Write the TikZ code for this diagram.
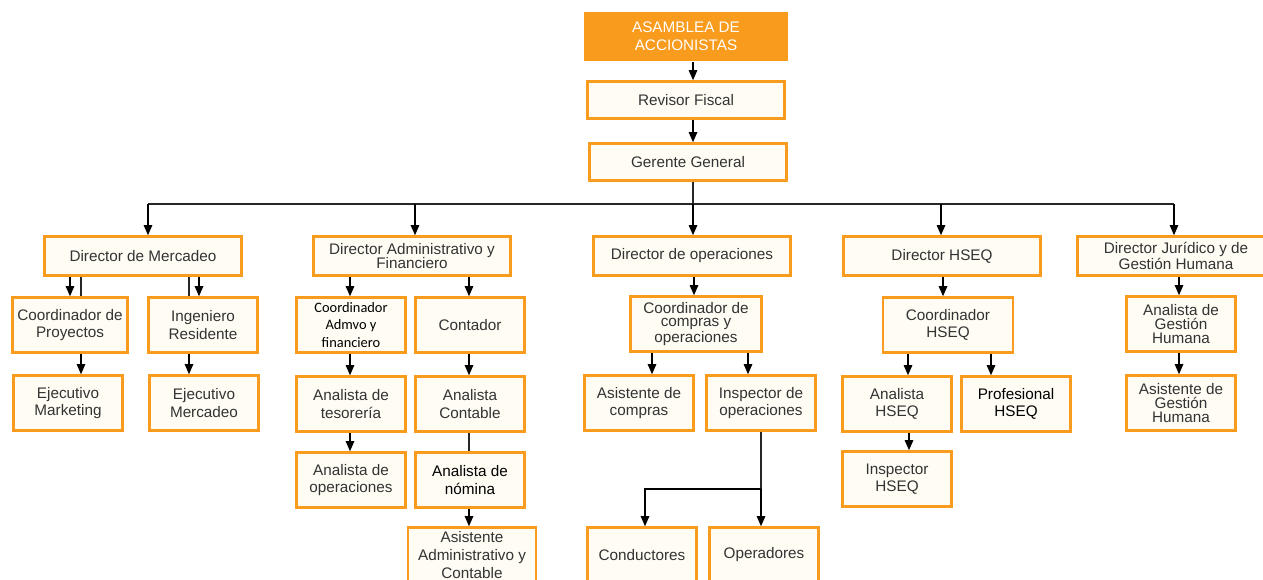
\documentclass[tikz,border=0pt]{standalone}
\usepackage{fontspec}
\setmainfont{Liberation Sans}
\newfontfamily\calfont{Carlito}
\usetikzlibrary{arrows.meta}

\definecolor{naranja}{HTML}{F99B1C}
\definecolor{crema}{HTML}{FFFCF4}
\definecolor{texto}{HTML}{333333}

\begin{document}
\begin{tikzpicture}[x=0.02cm, y=-0.02cm,
    caja/.style={draw=naranja, line width=1.5pt, fill=crema, text=texto,
      align=center, inner sep=1pt, font=\fontsize{8.7}{10}\selectfont},
    cabeza/.style={caja, draw=none, fill=naranja, text=white,
      minimum width=4.08cm, minimum height=0.98cm},
    director/.style={caja, minimum width=3.94cm, minimum height=0.78cm},
    puesto/.style={caja, minimum width=2.18cm, minimum height=1.1cm},
    apretado/.style={font=\fontsize{8.7}{7.8}\selectfont},
    oscuro/.style={text=black},
    flecha/.style={-{Triangle[length=2mm, width=1.7mm]}, line width=0.6pt},
    linea/.style={line width=0.6pt, draw=black!85}]

    \useasboundingbox (0,0) rectangle (1263,579);

    % cabeza
    \node[cabeza] (asam) at (686,36) {ASAMBLEA DE\\ACCIONISTAS};
    \node[director, minimum height=0.74cm] (rev) at (686,100) {Revisor Fiscal};
    \node[director, minimum height=0.74cm] (ger) at (688,162) {Gerente General};

    % directores
    \node[director] (dmer) at (143,256) {Director de Mercadeo};
    \node[director, font=\fontsize{8.7}{8.4}\selectfont] (dadm) at (412,256)
      {Director Administrativo y\\Financiero};
    \node[director] (dope) at (692,256) {Director de operaciones};
    \node[director] (dhse) at (942,256) {Director HSEQ};
    \node[director, apretado] (djur) at (1176,256)
      {Director Jurídico y de\\Gestión Humana};

    % mercadeo
    \node[puesto, minimum width=2.3cm] (cpro) at (70,325) {Coordinador de\\Proyectos};
    \node[puesto] (ing) at (203,325) {Ingeniero\\Residente};
    \node[puesto] (ejm) at (68,403) {Ejecutivo\\Marketing};
    \node[puesto] (ejme) at (204,403) {Ejecutivo\\Mercadeo};

    % administrativo y financiero
    \node[puesto, oscuro, font=\calfont\fontsize{8.2}{10}\selectfont] (cadm) at (351,325)
      {Coordinador\\Admvo y\\financiero};
    \node[puesto] (cont) at (470,325) {Contador};
    \node[puesto] (ates) at (351,404) {Analista de\\tesorería};
    \node[puesto] (acon) at (470,404) {Analista\\Contable};
    \node[puesto] (aope) at (351,480) {Analista de\\operaciones};
    \node[puesto, oscuro] (anom) at (470,480) {Analista de\\nómina};
    \node[puesto, minimum width=2.56cm] (asad) at (472,555)
      {Asistente\\Administrativo y\\Contable};

    % operaciones
    \node[puesto, apretado, minimum width=2.62cm] (ccom) at (696,324)
      {Coordinador de\\compras y\\operaciones};
    \node[puesto] (asco) at (639,403) {Asistente de\\compras};
    \node[puesto] (iope) at (761,403) {Inspector de\\operaciones};
    \node[puesto] (cond) at (642,555) {Conductores};
    \node[puesto] (oper) at (764,555) {Operadores};

    % hseq
    \node[puesto, minimum width=2.6cm] (choo) at (948,325) {Coordinador\\HSEQ};
    \node[puesto] (ahse) at (897,404) {Analista\\HSEQ};
    \node[puesto, oscuro] (phse) at (1016,404) {Profesional\\HSEQ};
    \node[puesto] (ihse) at (897,479) {Inspector\\HSEQ};

    % juridico y gestion humana
    \node[puesto, apretado] (agh) at (1181,324) {Analista de\\Gestión\\Humana};
    \node[puesto, apretado] (asgh) at (1181,403) {Asistente de\\Gestión\\Humana};

    % conectores
    \coordinate (bus) at (693,204);
    \coordinate (ramal) at (761,489);

    \draw[flecha] (asam.south -| 693,0) -- (rev.north -| 693,0);
    \draw[flecha] (rev.south -| 693,0) -- (ger.north -| 693,0);
    \draw[linea] (ger.south -| bus) -- (bus);
    \draw[linea] (bus -| 148,0) -- (bus -| 1174,0);

    \draw[flecha] (bus -| 148,0) -- (dmer.north -| 148,0);
    \draw[flecha] (bus -| 415,0) -- (dadm.north -| 415,0);
    \draw[flecha] (bus) -- (dope.north -| bus);
    \draw[flecha] (bus -| 941,0) -- (dhse.north -| 941,0);
    \draw[flecha] (bus -| 1174,0) -- (djur.north -| 1174,0);

    \draw[flecha] (dmer.south -| 70,0) -- (cpro.north -| 70,0);
    \draw[linea] (dmer.south -| 81,0) -- (cpro.north -| 81,0);
    \draw[linea] (dmer.south -| 189,0) -- (ing.north -| 189,0);
    \draw[flecha] (dmer.south -| 199,0) -- (ing.north -| 199,0);
    \draw[flecha] (cpro.south -| 81,0) -- (ejm.north -| 81,0);
    \draw[flecha] (ing.south -| 189,0) -- (ejme.north -| 189,0);

    \draw[flecha] (dadm.south -| 350,0) -- (cadm.north -| 350,0);
    \draw[flecha] (dadm.south -| 469,0) -- (cont.north -| 469,0);
    \draw[flecha] (cadm.south -| 350,0) -- (ates.north -| 350,0);
    \draw[flecha] (ates.south -| 350,0) -- (aope.north -| 350,0);
    \draw[flecha] (cont.south -| 469,0) -- (acon.north -| 469,0);
    \draw[linea] (acon.south -| 469,0) -- (anom.north -| 469,0);
    \draw[flecha] (anom.south -| 469,0) -- (asad.north -| 469,0);

    \draw[flecha] (dope.south -| 694,0) -- (ccom.north -| 694,0);
    \draw[flecha] (ccom.south -| 652,0) -- (asco.north -| 652,0);
    \draw[flecha] (ccom.south -| 748,0) -- (iope.north -| 748,0);
    \draw[linea] (iope.south -| ramal) -- (ramal);
    \draw[flecha] (ramal) -| (cond.north -| 645,0);
    \draw[flecha] (ramal) -- (oper.north -| ramal);

    \draw[flecha] (dhse.south -| 943,0) -- (choo.north -| 943,0);
    \draw[flecha] (choo.south -| 908,0) -- (ahse.north -| 908,0);
    \draw[flecha] (choo.south -| 991,0) -- (phse.north -| 991,0);
    \draw[flecha] (ahse.south -| 909,0) -- (ihse.north -| 909,0);

    \draw[flecha] (djur.south -| 1179,0) -- (agh.north -| 1179,0);
    \draw[flecha] (agh.south -| 1179,0) -- (asgh.north -| 1179,0);
\end{tikzpicture}
\end{document}
